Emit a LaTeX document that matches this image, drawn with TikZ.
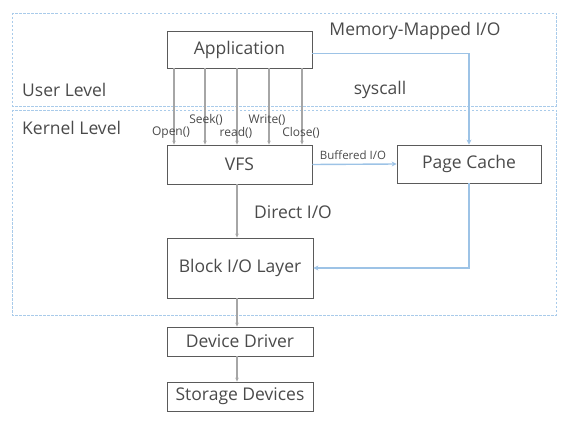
\documentclass[tikz,border=0pt]{standalone}
\usepackage{fontspec}
\setmainfont{Open Sans}
\usetikzlibrary{arrows.meta,calc}
\definecolor{txt}{HTML}{4A4A4A}
\definecolor{bord}{HTML}{5A5A5A}
\definecolor{gline}{HTML}{A6A6A6}
\definecolor{bline}{HTML}{9DC3E6}
\definecolor{bdash}{HTML}{A9CBEA}
\tikzset{
  box/.style={draw=bord, line width=0.8pt, rectangle, inner sep=0pt, text=txt, font=\fontsize{17.5}{20}\selectfont},
  garrow/.style={draw=gline, line width=1.2pt, -{Stealth[length=4pt,width=3.5pt]}},
  barrow/.style={draw=bline, line width=1.4pt, -{Stealth[length=5pt,width=5pt]}},
  zone/.style={draw=bdash, line width=0.9pt, dash pattern=on 2.5pt off 1.5pt},
  lbl/.style={text=txt, inner sep=0pt, font=\fontsize{17.5}{20}\selectfont},
  slbl/.style={text=txt, inner sep=0pt, font=\fontsize{12}{14}\selectfont},
  xslbl/.style={text=txt, inner sep=0pt, font=\fontsize{11.5}{13}\selectfont},
}
\begin{document}
\begin{tikzpicture}[x=1pt,y=-1pt]
\useasboundingbox (0,0) rectangle (562,422);
% zones
\draw[zone] (12,13) rectangle (556,106);
\draw[zone] (12,110) rectangle (556,315);
% boxes
\node[box, minimum width=145, minimum height=37] (app) at (239.5,49.5) {Application};
\node[box, minimum width=145, minimum height=39] (vfs) at (239.5,164.5) {VFS};
\node[box, minimum width=144, minimum height=38] (pc) at (469,164) {Page Cache};
\node[box, minimum width=146, minimum height=60] (blk) at (240,268) {Block I/O Layer};
\node[box, minimum width=146, minimum height=29] (dd) at (240,341.5) {Device Driver};
\node[box, minimum width=146, minimum height=29] (sd) at (240,396.5) {Storage Devices};
% syscall arrows
\foreach \xx in {174,205,237,269,302}{
  \draw[garrow] (app.south -| \xx,0) -- (vfs.north -| \xx,0);
}
% other gray arrows
\draw[garrow] (vfs.south -| 237,0) -- (blk.north -| 237,0);
\draw[garrow] (blk.south -| 237,0) -- (dd.north -| 237,0);
\draw[garrow] (dd.south -| 237,0) -- (sd.north -| 237,0);
% blue arrows
\draw[barrow] ([yshift=-4pt]app.east) -| (pc.north);
\draw[barrow] (vfs.east) -- (pc.west);
\draw[barrow] (pc.south) |- (blk.east);
% labels
\node[lbl, anchor=west] (ul) at (22,90) {User Level};
\node[lbl, anchor=west] (kl) at (22,128) {Kernel Level};
\node[lbl] (sc) at (380,90) {syscall};
\node[lbl] (mm) at (415,31) {Memory-Mapped I/O};
\node[lbl] (dio) at (293,212) {Direct I/O};
\node[xslbl] (bio) at (353,155) {Buffered I/O};
\node[slbl] (seek) at (206,120) {Seek()};
\node[slbl] (write) at (267,120) {Write()};
\node[slbl] (open) at (171,133) {Open()};
\node[slbl] (read) at (236,133) {read()};
\node[slbl] (close) at (301,133) {Close()};
\end{tikzpicture}
\end{document}
